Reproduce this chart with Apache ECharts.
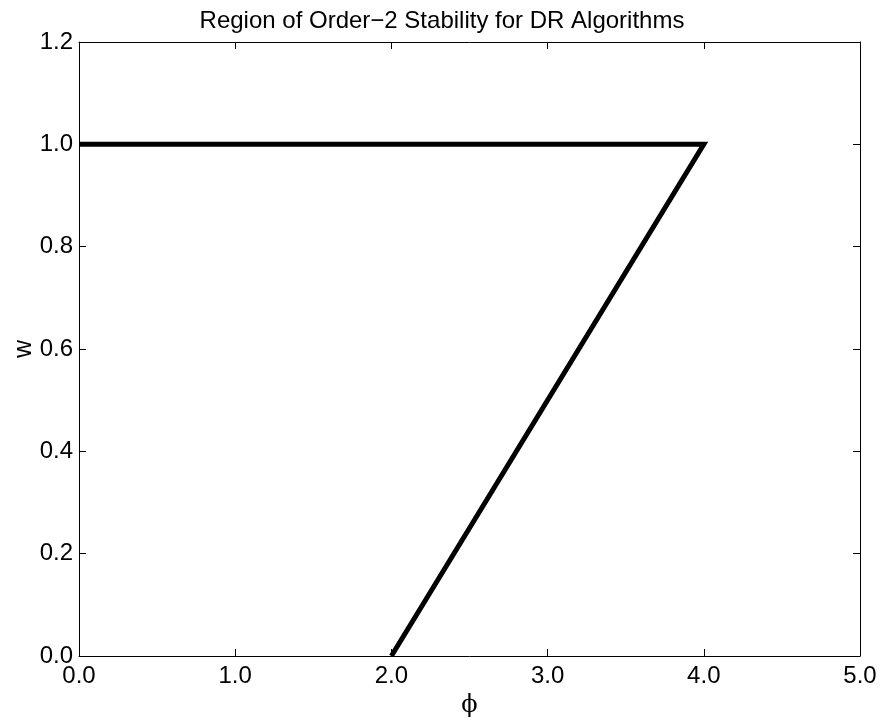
<!DOCTYPE html>
<html>
<head>
<meta charset="utf-8">
<script src="https://cdn.jsdelivr.net/npm/echarts@6/dist/echarts.min.js"></script>
<style>
  html, body { margin: 0; padding: 0; background: #fff; }
  #chart { width: 884px; height: 726px; }
</style>
</head>
<body>
<div id="chart"></div>
<script>
// boundary of the stability region: (phi, w)
const phiValues = [0, 4, 2];
const wValues = [1, 1, 0];
const xTicks = [0, 1, 2, 3, 4, 5];
const yTicks = [0, 0.2, 0.4, 0.6, 0.8, 1.0, 1.2];

var chart = echarts.init(document.getElementById('chart'));
const font = 'Liberation Sans, Arial, sans-serif';
const boundary = phiValues.map((p, i) => [p, wValues[i]]);

const baseAxis = {
    type: 'value',
    axisLine: { show: true, onZero: false, lineStyle: { color: '#000', width: 1 } },
    axisTick: { show: true, inside: true, length: 7, lineStyle: { color: '#000' } },
    splitLine: { show: false }
};

var option = {
    animation: false,
    title: {
        text: 'Region of Order\u22122 Stability for DR Algorithms',
        left: 'center',
        top: 4,
        textStyle: { fontFamily: font, fontSize: 24, fontWeight: 'normal', color: '#000' }
    },
    grid: { left: 79, right: 24, top: 42, bottom: 70, containLabel: false, outerBoundsMode: 'none' },
    xAxis: [
        Object.assign({}, baseAxis, {
            min: xTicks[0], max: xTicks[xTicks.length - 1], interval: 1,
            name: '\u03d5', nameLocation: 'middle', nameGap: 38, nameMoveOverlap: false,
            nameTextStyle: { fontFamily: 'DejaVu Serif, serif', fontSize: 24, color: '#000' },
            axisLabel: { margin: 8, fontFamily: font, fontSize: 24, color: '#000', formatter: v => v.toFixed(1) }
        }),
        Object.assign({}, baseAxis, {
            position: 'top', min: xTicks[0], max: xTicks[xTicks.length - 1], interval: 1,
            axisLabel: { show: false }
        })
    ],
    yAxis: [
        Object.assign({}, baseAxis, {
            min: yTicks[0], max: yTicks[yTicks.length - 1], interval: 0.2,
            name: 'w', nameLocation: 'middle', nameGap: 42, nameMoveOverlap: false,
            nameTextStyle: { fontFamily: font, fontSize: 25, color: '#000' },
            axisLabel: { margin: 6, fontFamily: font, fontSize: 24, color: '#000', formatter: v => v.toFixed(1) }
        }),
        Object.assign({}, baseAxis, {
            position: 'right', min: yTicks[0], max: yTicks[yTicks.length - 1], interval: 0.2,
            axisLabel: { show: false }
        })
    ],
    series: [{
        type: 'line',
        data: boundary,
        showSymbol: false,
        symbol: 'none',
        lineStyle: { color: '#000', width: 5, join: 'miter' }
    }]
};
chart.setOption(option);
</script>
</body>
</html>
